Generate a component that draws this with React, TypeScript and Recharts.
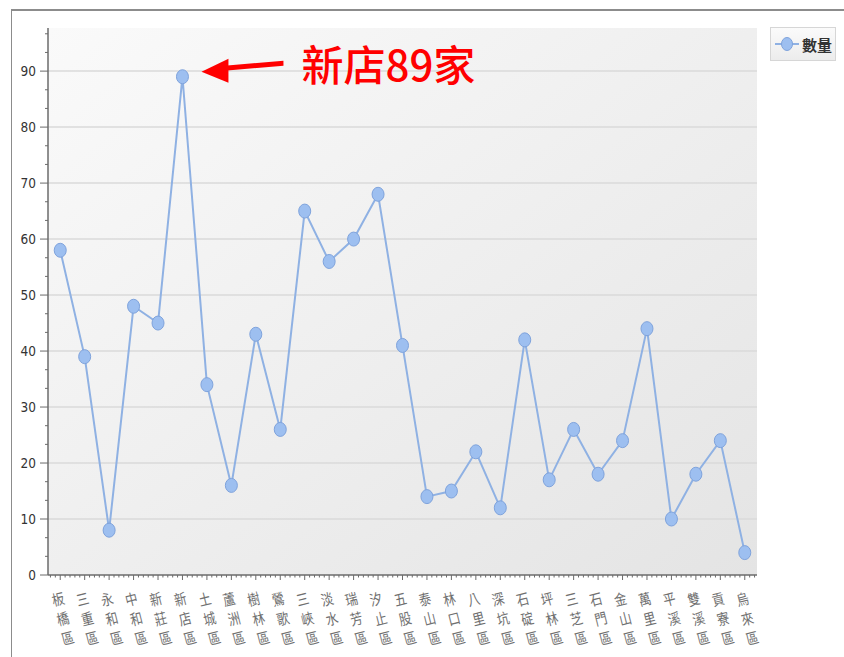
import React from 'react';
import { LineChart, Line, XAxis, YAxis, CartesianGrid, Legend, ReferenceDot } from 'recharts';

const districts = ['板橋區','三重區','永和區','中和區','新莊區','新店區','土城區','蘆洲區','樹林區','鶯歌區','三峽區','淡水區','瑞芳區','汐止區','五股區','泰山區','林口區','八里區','深坑區','石碇區','坪林區','三芝區','石門區','金山區','萬里區','平溪區','雙溪區','貢寮區','烏來區'];
const counts = [58,39,8,48,45,89,34,16,43,26,65,56,60,68,41,14,15,22,12,42,17,26,18,24,44,10,18,24,4];
const seriesName = '數量';
const yMajorTicks = [0,10,20,30,40,50,60,70,80,90];
const yMax = 97.7;
const annotation = { district: '新店區', value: 89, text: '新店89家' };

const data = districts.map((d, i) => ({ district: d, count: counts[i] }));

const yAllTicks: number[] = [];
yMajorTicks.forEach((v) => {
  [0, 1, 2].forEach((k) => {
    const t = v + (k * 10) / 3;
    if (t <= yMax) yAllTicks.push(t);
  });
});

const W = 844, H = 657;
const M = { top: 28, right: 87, bottom: 0, left: 0 };
const Y_W = 48, X_H = 82;
const plotLeft = M.left + Y_W;
const plotRight = W - M.right;
const band = (plotRight - plotLeft) / districts.length;

const LINE = '#8fb1e3';
const DOT_FILL = '#9dbff0';
const DOT_STROKE = '#7fa3dc';
const AXIS = '#6b6b6b';
const NUM_FONT = "'Liberation Sans Narrow', 'DejaVu Sans Condensed', 'Liberation Sans', sans-serif";
const CJK_FONT = "'Noto Sans CJK TC', 'Noto Sans CJK SC', sans-serif";

const YTick = (props: any) => {
  const { x, y, payload } = props;
  const v = payload.value;
  const major = yMajorTicks.some((m) => Math.abs(m - v) < 1e-6);
  return (
    <g>
      <line x1={x - (major ? 8 : 3)} x2={x} y1={y} y2={y} stroke={AXIS} strokeWidth={1} />
      {major && (
        <text x={x - 12} y={y} dy={5} textAnchor="end" fontSize={13.5} fill="#333" fontFamily={NUM_FONT}>
          {v}
        </text>
      )}
    </g>
  );
};

const XTick = (props: any) => {
  const { x, y, payload } = props;
  const label: string = String(payload.value);
  const minors: number[] = [];
  for (let k = -4; k <= 4; k++) {
    if (k === 0) continue;
    const mx = x + (k * band) / 5;
    if (k < 0 && (props.index !== 0)) continue;
    if (mx < plotLeft + 0.5 || mx > plotRight - 0.5) continue;
    minors.push(mx);
  }
  return (
    <g>
      <line x1={x} x2={x} y1={y} y2={y + 5} stroke={AXIS} strokeWidth={1} />
      {minors.map((mx, i) => (
        <line key={i} x1={mx} x2={mx} y1={y} y2={y + 2.5} stroke={AXIS} strokeWidth={1} />
      ))}
      <g transform={`translate(${x - 2},${y + 25}) rotate(-14) scale(0.82,1)`}>
        {label.split('').map((ch, i) => (
          <text key={i} x={0} y={i * 20} dy={5} textAnchor="middle" fontSize={15} fill="#707070" fontFamily={CJK_FONT}>
            {ch}
          </text>
        ))}
      </g>
    </g>
  );
};

const renderDot = (p: any) => (
  <ellipse key={`d${p.index}`} cx={p.cx} cy={p.cy} rx={6} ry={7} fill={DOT_FILL} stroke={DOT_STROKE} strokeWidth={1} />
);

const AnnotationShape = (p: any) => {
  const { cx, cy } = p;
  return (
    <g>
      <polygon
        points={`${cx + 19},${cy - 5} ${cx + 46},${cy - 18} ${cx + 46},${cy + 6}`}
        fill="#ff0000"
      />
      <polygon
        points={`${cx + 42},${cy - 11} ${cx + 101},${cy - 16} ${cx + 101},${cy - 11} ${cx + 42},${cy - 6}`}
        fill="#ff0000"
      />
      <text x={cx + 119} y={cy + 4} fontSize={42} fill="#ff0000" fontWeight={500} fontFamily={CJK_FONT}>
        {annotation.text}
      </text>
    </g>
  );
};

const LegendBox = () => (
  <div
    style={{
      width: 66,
      height: 34,
      border: '1px solid #d6d6d6',
      background: 'linear-gradient(#fbfbfb, #ececec)',
      boxSizing: 'border-box',
      display: 'flex',
      alignItems: 'center',
      paddingLeft: 3,
      fontFamily: CJK_FONT,
      fontSize: 15,
      fontWeight: 700,
      color: '#333',
    }}
  >
    <svg width={26} height={16} style={{ marginRight: 2 }}>
      <line x1={1} y1={8} x2={25} y2={8} stroke={LINE} strokeWidth={2} />
      <ellipse cx={13} cy={8} rx={5.5} ry={6.5} fill={DOT_FILL} stroke={DOT_STROKE} strokeWidth={1} />
    </svg>
    <span>{seriesName}</span>
  </div>
);

export default function App() {
  return (
    <div style={{ position: 'absolute', left: 0, top: 0, width: W, height: H, overflow: 'hidden', background: '#fff' }}>
      <div
        style={{
          position: 'absolute',
          left: 11,
          top: 9,
          width: 900,
          height: 700,
          borderTop: '2px solid #8c8c8c',
          borderLeft: '1px solid #8c8c8c',
        }}
      />
      <div style={{ position: 'absolute', left: 0, top: 0 }}>
        <LineChart width={W} height={H} data={data} margin={M}>
          <defs>
            <linearGradient id="plotBg" x1="0" y1="0" x2="1" y2="1">
              <stop offset="0%" stopColor="#fafafa" />
              <stop offset="100%" stopColor="#e4e4e4" />
            </linearGradient>
          </defs>
          <CartesianGrid
            vertical={false}
            horizontalValues={yMajorTicks.filter((v) => v > 0)}
            stroke="#dadada"
            strokeWidth={1.5}
            fill="url(#plotBg)"
            fillOpacity={1}
          />
          <XAxis
            dataKey="district"
            scale="point"
            padding={{ left: band / 2, right: band / 2 }}
            interval={0}
            height={X_H}
            tickSize={0}
            tickMargin={0}
            tickLine={false}
            axisLine={{ stroke: AXIS, strokeWidth: 1.5 }}
            tick={<XTick />}
          />
          <XAxis
            xAxisId="top"
            dataKey="district"
            orientation="top"
            height={0}
            tick={false}
            tickLine={false}
            axisLine={{ stroke: '#d4d4d4', strokeWidth: 1.5 }}
          />
          <YAxis
            type="number"
            domain={[0, yMax]}
            ticks={yAllTicks}
            interval={0}
            width={Y_W}
            tickSize={0}
            tickMargin={0}
            tickLine={false}
            allowDataOverflow
            axisLine={{ stroke: AXIS, strokeWidth: 1.5 }}
            tick={<YTick />}
          />
          <YAxis
            yAxisId="right"
            orientation="right"
            type="number"
            domain={[0, yMax]}
            width={0}
            tick={false}
            tickLine={false}
            axisLine={{ stroke: '#d4d4d4', strokeWidth: 1.5 }}
          />
          <Legend
            layout="horizontal"
            verticalAlign="middle"
            align="center"
            content={<LegendBox />}
            wrapperStyle={{ left: 770, top: 27, width: 66, height: 34 }}
          />
          <Line
            type="linear"
            dataKey="count"
            name={seriesName}
            stroke={LINE}
            strokeWidth={2}
            dot={renderDot}
            activeDot={false}
            isAnimationActive={false}
          />
          <ReferenceDot
            x={annotation.district}
            y={annotation.value}
            r={0}
            shape={<AnnotationShape />}
          />
        </LineChart>
      </div>
    </div>
  );
}
